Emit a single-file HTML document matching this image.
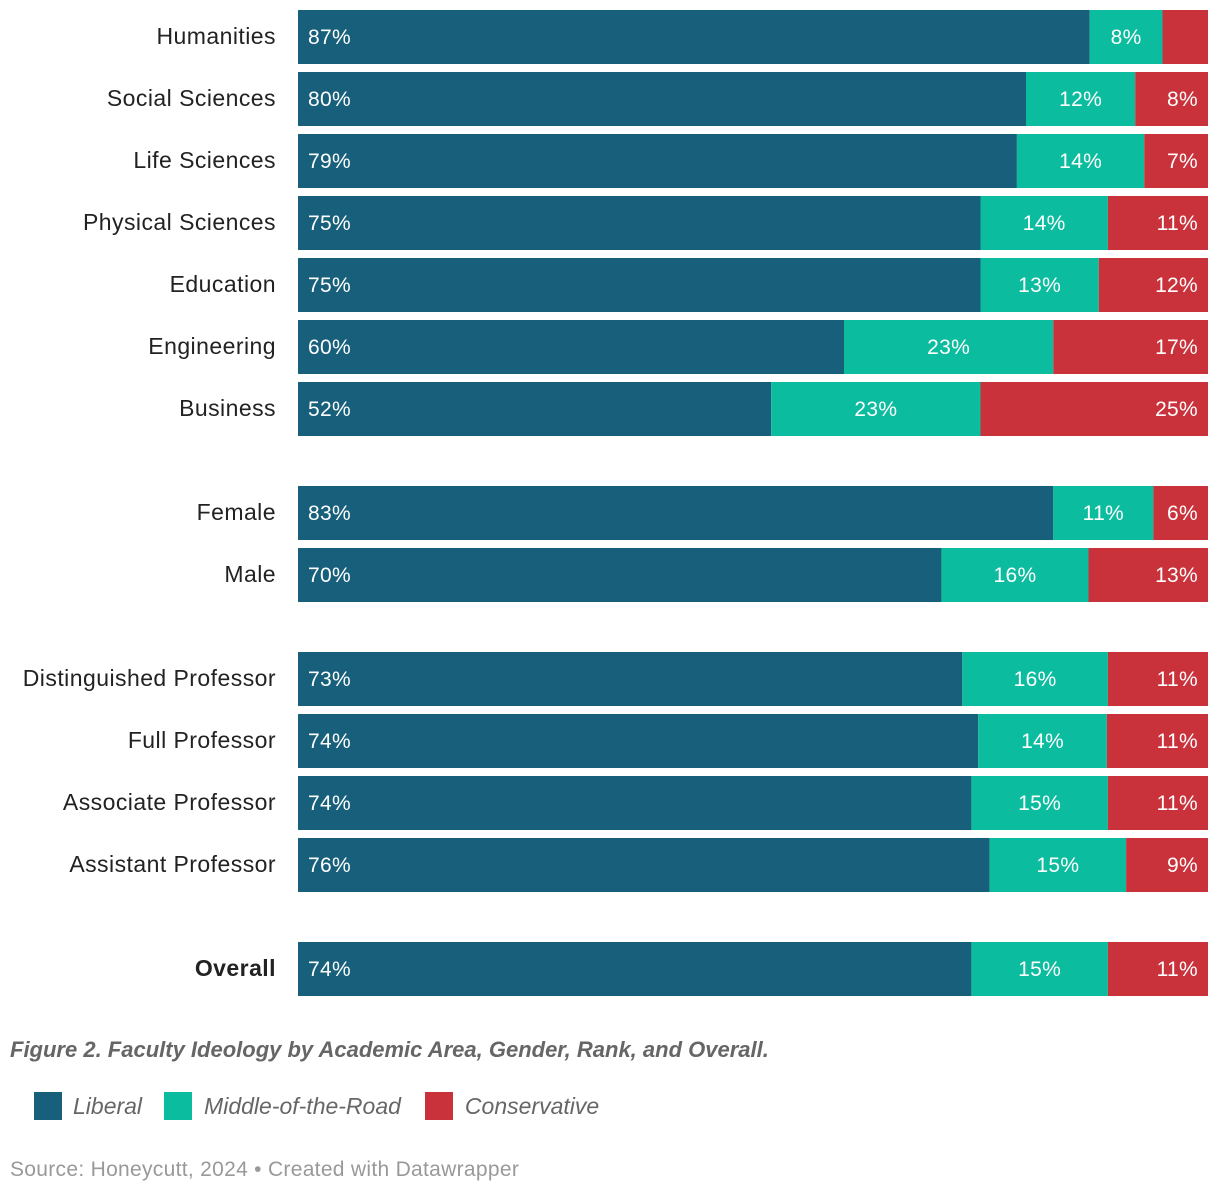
<!DOCTYPE html>
<html><head><meta charset="utf-8"><style>
body{margin:0;background:#fff;width:1220px;height:1194px;overflow:hidden;font-family:"Liberation Sans",Arial,sans-serif}
</style></head><body>
<svg id="chart" width="1220" height="1194" xmlns="http://www.w3.org/2000/svg"></svg>
<script>
const categories=["Humanities","Social Sciences","Life Sciences","Physical Sciences","Education","Engineering","Business","Female","Male","Distinguished Professor","Full Professor","Associate Professor","Assistant Professor","Overall"];
const liberal=[87,80,79,75,75,60,52,83,70,73,74,74,76,74];
const middle=[8,12,14,14,13,23,23,11,16,16,14,15,15,15];
const conservative=[5,8,7,11,12,17,25,6,13,11,11,11,9,11];
const groupIndex=[0,0,0,0,0,0,0,1,1,2,2,2,2,3];
const seriesNames=["Liberal","Middle-of-the-Road","Conservative"];
const colors=["#175f7a","#0cbc9f","#c9323b"];
const NS="http://www.w3.org/2000/svg";
const svg=document.getElementById("chart");
const x0=298,plotW=910,barH=54,pitch=62,groupGap=42,top0=10;
function xScale(v,total){return v/total*plotW;}
function yPos(i){return top0+i*pitch+groupIndex[i]*groupGap;}
function mk(tag,attrs,parent){const e=document.createElementNS(NS,tag);for(const k in attrs)e.setAttribute(k,attrs[k]);(parent||svg).appendChild(e);return e;}
categories.forEach((c,i)=>{
  const y=yPos(i);
  const vals=[liberal[i],middle[i],conservative[i]];
  const total=vals[0]+vals[1]+vals[2];
  const g=mk("g",{});
  
  
  const lab=mk("text",{x:276,y:y+barH/2+7,"text-anchor":"end","font-size":"23","letter-spacing":"0.45","fill":"#222","font-weight":c==="Overall"?"bold":"normal"},g);
  lab.textContent=c;
  
  
  let x=x0;
  vals.forEach((v,s)=>{
    const w=xScale(v,total);
    const r=mk("rect",{x:x,y:y,width:w,height:barH,fill:colors[s]},g);
    
    
    if(v>=6){
      const t=mk("text",{y:y+barH/2+7,"font-size":"21","letter-spacing":"0.3","fill":"#fff"},g);
      if(s===0){t.setAttribute("x",x+10);}
      else if(s===1){t.setAttribute("x",x+w/2);t.setAttribute("text-anchor","middle");}
      else{t.setAttribute("x",x+w-10);t.setAttribute("text-anchor","end");}
      t.textContent=v+"%";
      
      
    }
    x+=w;
  });
});
</script>
<div style="position:absolute;left:10px;top:1037px;font-size:22px;font-style:italic;font-weight:bold;color:#666">Figure 2. Faculty Ideology by Academic Area, Gender, Rank, and Overall.</div>
<div style="position:absolute;left:34px;top:1092px;font-size:23px;font-style:italic;color:#666;display:flex;align-items:center">
<span style="display:flex;align-items:center;margin-right:22px"><span style="width:28px;height:28px;background:#175f7a;display:inline-block;margin-right:11px"></span>Liberal</span>
<span style="display:flex;align-items:center;margin-right:24px"><span style="width:28px;height:28px;background:#0cbc9f;display:inline-block;margin-right:12px"></span><span>Middle-of-the-Road</span></span>
<span style="display:flex;align-items:center"><span style="width:28px;height:28px;background:#c9323b;display:inline-block;margin-right:12px"></span><span>Conservative</span></span>
</div>
<div style="position:absolute;left:10px;top:1158px;font-size:21px;letter-spacing:0.3px;color:#999">Source: Honeycutt, 2024 • Created with Datawrapper</div>
</body></html>
